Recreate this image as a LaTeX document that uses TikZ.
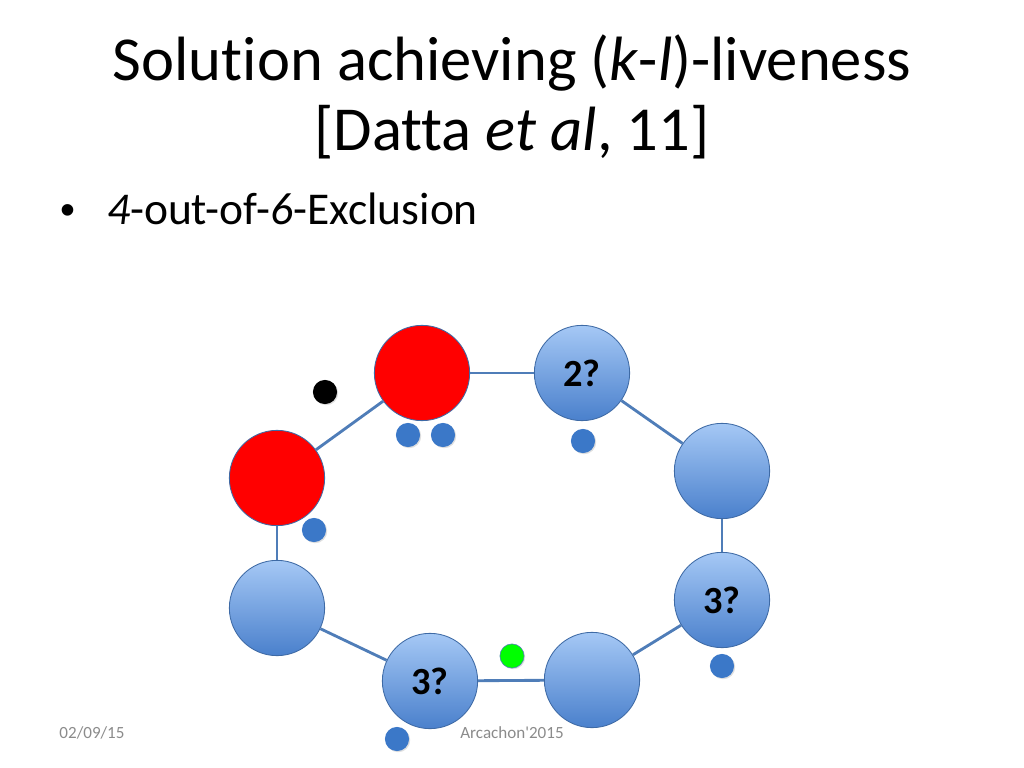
\documentclass[tikz,border=0pt]{standalone}
\usepackage{fontspec}
\setmainfont{Carlito}[Ligatures={NoCommon}]
\newfontfamily\bulfont{Liberation Sans}
\newfontfamily\footfont{Carlito}[Ligatures=ResetAll]
\usetikzlibrary{shadows}
\definecolor{edgeblue}{HTML}{4F7DB8}
\definecolor{ringblue}{HTML}{3E6AA5}
\definecolor{topblue}{HTML}{A5C8F5}
\definecolor{botblue}{HTML}{4A80CC}
\definecolor{dotblue}{HTML}{3B78C8}
\definecolor{foot}{HTML}{8B8B8B}
\tikzset{
  proc/.style={circle, draw=ringblue, line width=0.6pt, minimum size=67pt, inner sep=0pt,
     top color=topblue, bottom color=botblue, font=\fontsize{27}{27}\selectfont\bfseries},
  redproc/.style={circle, draw=ringblue, line width=0.6pt, minimum size=67pt, inner sep=0pt, fill=red},
  tok/.style={circle, fill=dotblue, minimum size=17pt, inner sep=0pt,
     drop shadow={shadow xshift=0.8pt, shadow yshift=-0.8pt, opacity=0.25}},
  link/.style={draw=edgeblue, line width=2pt},
  foottext/.style={text=foot, font=\footfont\fontsize{12}{12}\selectfont}
}
\begin{document}
\begin{tikzpicture}[x=0.703125pt,y=-0.703125pt]
\useasboundingbox (0,0) rectangle (1024,768);
% title
\node (t1) at (512,63) {\fontsize{44}{44}\selectfont Solution achieving (\textit{k}-\textit{l})-liveness};
\node (t2) at (512,132) {\fontsize{44}{44}\selectfont [Datta \textit{et al}, 11]};
\node[anchor=base] (bul) at (68,225) {\bulfont\fontsize{30}{30}\selectfont •};
\node[anchor=base west] (b1) at (102,225) {\fontsize{32}{32}\selectfont \textit{4}-out-of-\textit{6}-Exclusion};
% processes
\node[redproc] (p1) at (422,373) {};
\node[proc] (p2) at (582,373) {2?};
\node[proc] (p3) at (722,471) {};
\node[proc] (p4) at (722,600) {3?};
\node[proc] (p5) at (592,680) {};
\node[proc] (p6) at (430,681) {3?};
\node[proc] (p7) at (277,608) {};
\node[redproc] (p8) at (277,478) {};
% links
\draw[link] (p1) -- (p2);
\draw[link] (p2) -- (p3);
\draw[link] (p3) -- (p4);
\draw[link] (p4) -- (p5);
\draw[link] (p5) -- (p6);
\draw[link] (p6) -- (p7);
\draw[link] (p7) -- (p8);
\draw[link] (p8) -- (p1);
% tokens
\node[tok, fill=black] (k0) at (325,392) {};
\node[tok] (k1) at (408,435) {};
\node[tok] (k2) at (443,435) {};
\node[tok] (k3) at (583,441) {};
\node[tok] (k4) at (314,530) {};
\node[tok] (k5) at (722,666) {};
\node[tok] (k6) at (397,739) {};
\node[tok, fill=green, draw=edgeblue, line width=0.4pt] (k7) at (512,656) {};
% footer
\node[foottext] (f1) at (92,733) {02/09/15};
\node[foottext] (f2) at (512,733) {Arcachon'2015};
\end{tikzpicture}
\end{document}
